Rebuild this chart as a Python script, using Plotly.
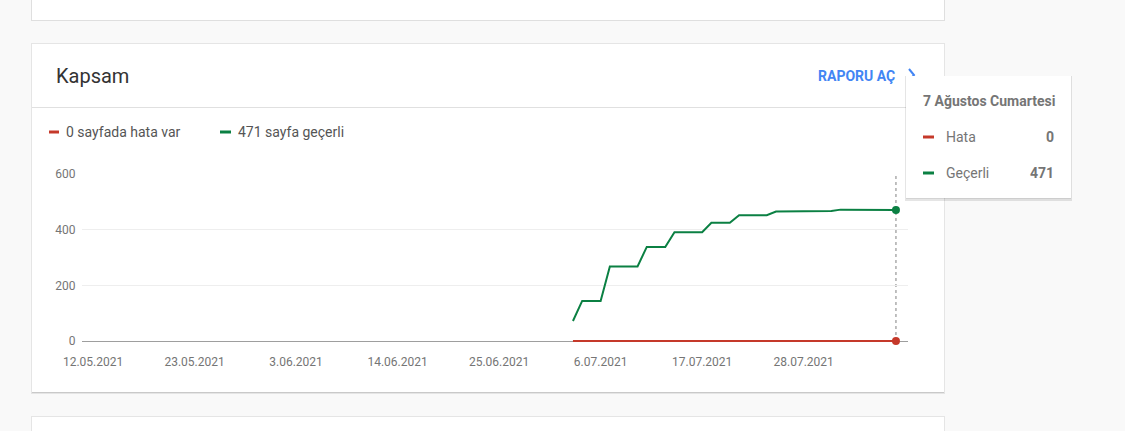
# -*- coding: utf-8 -*-
"""Kapsam card: hata / gecerli pages over time"""

import plotly.graph_objects as go

# Data
dates = [
    "2021-07-03", "2021-07-04", "2021-07-05", "2021-07-06", "2021-07-07",
    "2021-07-08", "2021-07-09", "2021-07-10", "2021-07-11", "2021-07-12",
    "2021-07-13", "2021-07-14", "2021-07-15", "2021-07-16", "2021-07-17",
    "2021-07-18", "2021-07-19", "2021-07-20", "2021-07-21", "2021-07-22",
    "2021-07-23", "2021-07-24", "2021-07-25", "2021-07-26", "2021-07-27",
    "2021-07-28", "2021-07-29", "2021-07-30", "2021-07-31", "2021-08-01",
    "2021-08-02", "2021-08-03", "2021-08-04", "2021-08-05", "2021-08-06",
    "2021-08-07",
]
gecerli = [
    72, 144, 144, 144, 268, 268, 268, 268, 338, 338,
    338, 391, 391, 391, 391, 425, 425, 425, 452, 452,
    452, 452, 465, 465, 466, 467, 467, 467, 467, 472,
    472, 472, 472, 472, 472, 471,
]
hata = [0] * len(dates)

tick_vals = ["2021-05-12", "2021-05-23", "2021-06-03", "2021-06-14",
             "2021-06-25", "2021-07-06", "2021-07-17", "2021-07-28"]
tick_text = ["12.05.2021", "23.05.2021", "3.06.2021", "14.06.2021",
             "25.06.2021", "6.07.2021", "17.07.2021", "28.07.2021"]
y_ticks = [0, 200, 400, 600]

W, H = 1125, 431
RED = "#c5392a"
GREEN = "#0b8043"
BLUE = "#4285f4"
FONT = "Roboto"


def px(x):
    return x / W


def py(y):
    return 1 - y / H


def rect(x0, y0, x1, y1, color, layer="below"):
    return dict(type="rect", xref="paper", yref="paper", x0=px(x0), x1=px(x1),
                y0=py(y1), y1=py(y0), fillcolor=color, line_width=0, layer=layer)


def hline(x0, x1, y, color, width=1, layer="below"):
    return dict(type="line", xref="paper", yref="paper", x0=px(x0), x1=px(x1),
                y0=py(y), y1=py(y), line=dict(color=color, width=width), layer=layer)


def text(x, y, s, size=14, color="#5f5f5f", xanchor="left", weight=None):
    return dict(x=px(x), y=py(y), xref="paper", yref="paper", text=s, showarrow=False,
                xanchor=xanchor, yanchor="middle",
                font=dict(family=FONT, size=size, color=color, weight=weight))


fig = go.Figure()
fig.add_trace(go.Scatter(x=dates, y=hata, mode="lines", line=dict(color=RED, width=2),
                         hoverinfo="skip"))
fig.add_trace(go.Scatter(x=dates, y=gecerli, mode="lines", line=dict(color=GREEN, width=2),
                         hoverinfo="skip"))
# highlighted last day
fig.add_trace(go.Scatter(x=[dates[-1]], y=[hata[-1]], mode="markers",
                         marker=dict(color=RED, size=8), cliponaxis=False, hoverinfo="skip"))
fig.add_trace(go.Scatter(x=[dates[-1]], y=[gecerli[-1]], mode="markers",
                         marker=dict(color=GREEN, size=8), cliponaxis=False, hoverinfo="skip"))

shapes = [
    # card shadows + cards
    rect(31, -2, 945, 21, "rgba(0,0,0,0.10)"),
    rect(32, -2, 944, 20, "white"),
    rect(31, 43, 945, 394, "rgba(0,0,0,0.08)"),
    rect(32, 44, 944, 393, "rgba(0,0,0,0.12)"),
    rect(32, 44, 944, 392, "white"),
    rect(31, 416, 945, 440, "rgba(0,0,0,0.08)"),
    rect(32, 417, 944, 440, "white"),
    hline(32, 944, 107.5, "#e0e0e0"),
    # legend dashes
    hline(49, 59, 132, RED, 3),
    hline(220, 231, 132, GREEN, 3),
    # hover guide
    dict(type="line", xref="x", yref="y", x0=dates[-1], x1=dates[-1], y0=0, y1=600,
         line=dict(color="#808080", width=1, dash="dot"), layer="below"),
    # chevron next to RAPORU AÇ
    dict(type="path", xref="paper", yref="paper",
         path=f"M {px(909)} {py(69)} L {px(914)} {py(75)} L {px(909)} {py(81)}",
         line=dict(color=BLUE, width=2), layer="above"),
    # tooltip
    rect(905, 76, 1072, 201, "rgba(0,0,0,0.10)", "above"),
    rect(906, 76, 1071, 199, "rgba(0,0,0,0.08)", "above"),
    rect(906, 76, 1071, 198, "white", "above"),
    hline(923, 934, 137, RED, 3, "above"),
    hline(923, 934, 173, GREEN, 3, "above"),
]

annotations = [
    text(54, 76, "Kapsam", size=20, color="#333333"),
    text(897, 76, "RAPORU AÇ", size=14, color=BLUE, xanchor="right", weight="bold"),
    text(64, 132, f"{hata[-1]} sayfada hata var", color="#555555"),
    text(236, 132, f"{gecerli[-1]} sayfa geçerli", color="#555555"),
    text(921, 101, "7 Ağustos Cumartesi", size=14, color="#757575", weight="bold"),
    text(944, 137, "Hata", color="#757575"),
    text(1056, 137, f"{hata[-1]}", color="#757575", xanchor="right", weight="bold"),
    text(944, 173, "Geçerli", color="#757575"),
    text(1056, 173, f"{gecerli[-1]}", color="#757575", xanchor="right", weight="bold"),
]

fig.update_layout(
    width=W,
    height=H,
    autosize=False,
    margin=dict(l=0, r=0, t=0, b=0, pad=0, autoexpand=False),
    paper_bgcolor="#f9f9f9",
    plot_bgcolor="rgba(0,0,0,0)",
    showlegend=False,
    shapes=shapes,
    annotations=annotations,
    font=dict(family=FONT, size=12, color="#757575"),
    xaxis=dict(
        domain=[px(81.5), px(907.5)],
        range=["2021-05-10 18:00", "2021-08-08 06:00"],
        tickvals=tick_vals,
        ticktext=tick_text,
        showgrid=False,
        zeroline=False,
        showline=False,
        automargin=False,
        ticklabelstandoff=9,
        tickfont=dict(family=FONT, size=12, color="#757575"),
        fixedrange=True,
    ),
    yaxis=dict(
        domain=[py(343.8), py(174)],
        range=[-10, 600],
        tickvals=y_ticks,
        showgrid=True,
        gridcolor="#eeeeee",
        gridwidth=1,
        zeroline=True,
        zerolinecolor="#9e9e9e",
        zerolinewidth=1,
        showline=False,
        automargin=False,
        ticklabelstandoff=5,
        tickfont=dict(family=FONT, size=12, color="#757575"),
        fixedrange=True,
    ),
)

fig.write_html("out.html", config={"displayModeBar": False, "responsive": False},
               post_script="document.body.style.margin='0';")
